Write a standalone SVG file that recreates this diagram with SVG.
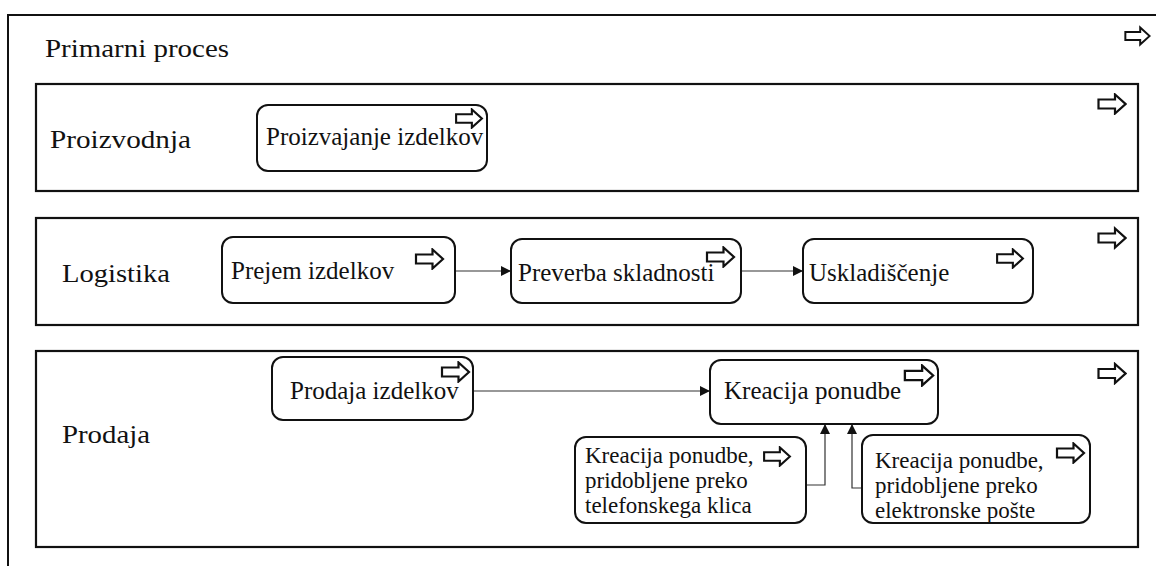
<svg xmlns="http://www.w3.org/2000/svg" width="1156" height="566" viewBox="0 0 1156 566">
  <style>
    .frame { fill: none; stroke: #111; stroke-width: 2; }
    .lane { fill: #fff; stroke: #111; stroke-width: 2.2; }
    .node { fill: #fff; stroke: #111; stroke-width: 2; }
    .conn { fill: none; stroke: #333; stroke-width: 1.2; }
    .lbl { font-family: "Liberation Serif", "Times New Roman", serif; font-size: 26px; fill: #111; }
    .txt { font-family: "Liberation Serif", "Times New Roman", serif; font-size: 25px; fill: #111; }
    .small { font-size: 23px; }
  </style>
  <defs>
    <!-- hollow block arrow used as the process marker -->
    <symbol id="proc" viewBox="0 0 30 22">
      <path d="M1.5,6.5 H18 V1.5 L28.5,11 L18,20.5 V15.5 H1.5 Z" fill="#fff" stroke="#111" stroke-width="2.2" stroke-linejoin="miter"/>
    </symbol>
    <marker id="tip" viewBox="0 0 10 10" refX="10" refY="5" markerWidth="10" markerHeight="10" markerUnits="userSpaceOnUse" orient="auto">
      <path d="M0,0 L10,5 L0,10 Z" fill="#111"/>
    </marker>
  </defs>

  <rect width="1156" height="566" fill="#fff"/>

  <!-- outer pool -->
  <g id="primarni">
    <rect class="frame" x="8" y="15" width="1170" height="600"/>
    <text class="lbl" x="45" y="57" font-size="27" textLength="184" lengthAdjust="spacingAndGlyphs">Primarni proces</text>
    <use href="#proc" x="1124" y="25" width="27" height="22"/>
  </g>

  <!-- lane: Proizvodnja -->
  <g id="lane-proizvodnja">
    <rect class="lane" x="36" y="84" width="1102" height="107"/>
    <text class="lbl" x="50" y="148" textLength="141" lengthAdjust="spacingAndGlyphs">Proizvodnja</text>
    <use href="#proc" x="1097" y="93" width="30" height="22"/>
  </g>

  <!-- lane: Logistika -->
  <g id="lane-logistika">
    <rect class="lane" x="36" y="218" width="1102" height="107"/>
    <text class="lbl" x="62" y="282" textLength="108" lengthAdjust="spacingAndGlyphs">Logistika</text>
    <use href="#proc" x="1097" y="226" width="30" height="24"/>
  </g>

  <!-- lane: Prodaja -->
  <g id="lane-prodaja">
    <rect class="lane" x="36" y="351" width="1102" height="196"/>
    <text class="lbl" x="62" y="443" textLength="88" lengthAdjust="spacingAndGlyphs">Prodaja</text>
    <use href="#proc" x="1097" y="362" width="30" height="23"/>
  </g>

  <!-- connectors -->
  <g id="connectors">
    <line class="conn" x1="455" y1="271" x2="511" y2="271" marker-end="url(#tip)"/>
    <line class="conn" x1="741" y1="271" x2="803" y2="271" marker-end="url(#tip)"/>
    <line class="conn" x1="473" y1="391" x2="710" y2="391" marker-end="url(#tip)"/>
    <polyline class="conn" points="806,485 825,485 825,424" marker-end="url(#tip)"/>
    <polyline class="conn" points="862,488 852,488 852,424" marker-end="url(#tip)"/>
  </g>

  <!-- tasks -->
  <g id="proizvajanje">
    <rect class="node" x="257" y="105" width="230" height="66" rx="11"/>
    <text class="txt" x="266" y="145">Proizvajanje izdelkov</text>
    <use href="#proc" x="453" y="108" width="32" height="21"/>
  </g>

  <g id="prejem">
    <rect class="node" x="222" y="237" width="233" height="66" rx="11"/>
    <text class="txt" x="231" y="279">Prejem izdelkov</text>
    <use href="#proc" x="414" y="248" width="31" height="22"/>
  </g>

  <g id="preverba">
    <rect class="node" x="511" y="239" width="230" height="64" rx="11"/>
    <text class="txt" x="518" y="281">Preverba skladnosti</text>
    <use href="#proc" x="705" y="246" width="31" height="22"/>
  </g>

  <g id="uskladiscenje">
    <rect class="node" x="803" y="239" width="230" height="64" rx="11"/>
    <text class="txt" x="809" y="281">Uskladiščenje</text>
    <use href="#proc" x="995" y="248" width="30" height="21"/>
  </g>

  <g id="prodaja-izdelkov">
    <rect class="node" x="272" y="357" width="201" height="63" rx="11"/>
    <text class="txt" x="290" y="399">Prodaja izdelkov</text>
    <use href="#proc" x="440" y="361" width="31" height="22"/>
  </g>

  <g id="kreacija">
    <rect class="node" x="710" y="360" width="228" height="64" rx="11"/>
    <text class="txt" x="724" y="399">Kreacija ponudbe</text>
    <use href="#proc" x="903" y="364" width="32" height="23"/>
  </g>

  <g id="kreacija-telefon">
    <rect class="node" x="575" y="437" width="231" height="86" rx="11"/>
    <text class="txt small" x="585" y="463">Kreacija ponudbe,</text>
    <text class="txt small" x="585" y="488">pridobljene preko</text>
    <text class="txt small" x="585" y="513">telefonskega klica</text>
    <use href="#proc" x="762" y="446" width="30" height="21"/>
  </g>

  <g id="kreacija-posta">
    <rect class="node" x="862" y="435" width="228" height="88" rx="11"/>
    <text class="txt small" x="875" y="468">Kreacija ponudbe,</text>
    <text class="txt small" x="875" y="493">pridobljene preko</text>
    <text class="txt small" x="875" y="518">elektronske pošte</text>
    <use href="#proc" x="1055" y="442" width="31" height="22"/>
  </g>
</svg>
